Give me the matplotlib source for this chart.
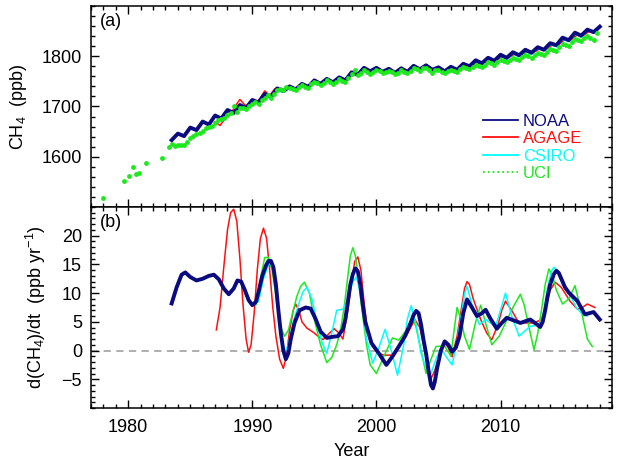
import numpy as np
import matplotlib
matplotlib.use("Agg")
import matplotlib.pyplot as plt
from matplotlib.lines import Line2D
from matplotlib.ticker import MultipleLocator

plt.rcParams["font.family"] = ["Liberation Sans", "DejaVu Sans"]
plt.rcParams["mathtext.default"] = "regular"

# ---- panel (a): CH4 mixing ratio (ppb) ----
noaa_yr = np.arange(1983.5, 2018.01, 0.5)
noaa_ch4 = [1633, 1646, 1641, 1658, 1653, 1670, 1664, 1682, 1676, 1693,
            1687, 1703, 1697, 1713, 1708, 1725, 1719, 1736, 1731, 1740,
            1734, 1745, 1739, 1752, 1745, 1755, 1748, 1758, 1752, 1768,
            1763, 1777, 1770, 1777, 1769, 1775, 1767, 1776, 1769, 1781,
            1774, 1782, 1773, 1778, 1770, 1779, 1773, 1785, 1780, 1792,
            1786, 1797, 1791, 1803, 1797, 1808, 1802, 1813, 1807, 1818,
            1813, 1826, 1822, 1837, 1832, 1847, 1841, 1853, 1848, 1859]

agage_yr = [1987.0, 1987.4, 1987.8, 1988.2, 1988.6, 1989.0, 1989.4, 1989.8,
            1990.2, 1990.6, 1991.0, 1991.4, 1991.8, 1992.2, 1992.7, 1993.2,
            1993.7, 1994.2, 1994.7, 1995.2, 1995.7, 1996.2, 1996.7, 1997.2,
            1997.7, 1998.2, 1998.7, 1999.2, 1999.7, 2000.2, 2000.7, 2001.2,
            2001.7, 2002.2, 2002.7, 2003.2, 2003.7, 2004.2, 2004.7, 2005.2,
            2005.7, 2006.2, 2006.7, 2007.2, 2007.7, 2008.2, 2008.7, 2009.2,
            2009.7, 2010.2, 2010.7, 2011.2, 2011.7, 2012.2, 2012.7, 2013.2,
            2013.7, 2014.2, 2014.7, 2015.2, 2015.7, 2016.2, 2016.7, 2017.2,
            2017.6]
agage_ch4 = [1670, 1662, 1676, 1683, 1700, 1714, 1703, 1700, 1706, 1715,
             1731, 1722, 1735, 1735, 1733, 1738, 1736, 1743, 1741, 1749,
             1746, 1753, 1749, 1756, 1754, 1768, 1766, 1775, 1770, 1774,
             1769, 1772, 1767, 1773, 1770, 1779, 1775, 1779, 1773, 1775,
             1771, 1776, 1774, 1783, 1781, 1789, 1787, 1794, 1792, 1800,
             1798, 1805, 1803, 1810, 1808, 1815, 1814, 1823, 1823, 1834,
             1833, 1843, 1842, 1850, 1849]

csiro_yr = np.arange(1991.0, 2017.01, 0.5)
csiro_ch4 = [1720, 1716, 1732, 1728, 1736, 1732, 1741, 1736, 1747, 1742,
             1751, 1746, 1754, 1749, 1765, 1761, 1774, 1767, 1774, 1766,
             1772, 1764, 1773, 1766, 1778, 1771, 1779, 1770, 1775, 1767,
             1776, 1770, 1782, 1778, 1789, 1783, 1794, 1788, 1800, 1794,
             1805, 1799, 1810, 1804, 1815, 1811, 1823, 1819, 1834, 1829,
             1844, 1838, 1850]

uci_yr = [1978.0, 1979.7, 1980.1, 1980.4, 1980.6, 1980.9, 1981.4, 1982.7,
          1983.3] + list(np.arange(1983.5, 2017.76, 0.25))
uci_ch4 = [1517, 1551, 1561, 1579, 1566, 1568, 1588, 1598, 1619,
           1626, 1622,
           1623, 1623, 1624, 1630,
           1637, 1642, 1645, 1648,
           1652, 1657, 1660, 1662,
           1668, 1673, 1675, 1678,
           1683, 1688, 1701, 1690,
           1696, 1697, 1694, 1700,
           1704, 1708, 1705, 1712,
           1716, 1722, 1716, 1725,
           1733, 1735, 1733, 1739,
           1737, 1734, 1732, 1739,
           1742, 1738, 1737, 1744,
           1749, 1746, 1742, 1747,
           1752, 1749, 1745, 1749,
           1754, 1751, 1749, 1757,
           1765, 1772, 1763, 1767,
           1772, 1769, 1765, 1769,
           1773, 1770, 1766, 1769,
           1771, 1768, 1764, 1767,
           1772, 1769, 1766, 1770,
           1776, 1775, 1770, 1776,
           1777, 1773, 1767, 1772,
           1773, 1769, 1766, 1770,
           1773, 1770, 1768, 1775,
           1778, 1776, 1774, 1779,
           1783, 1781, 1778, 1783,
           1788, 1786, 1783, 1788,
           1793, 1791, 1788, 1793,
           1797, 1795, 1793, 1798,
           1802, 1800, 1797, 1802,
           1807, 1805, 1803, 1809,
           1815, 1813, 1811, 1818,
           1825, 1823, 1821, 1829,
           1835, 1832, 1830, 1836,
           1840, 1837, 1833, 1847]

# ---- panel (b): growth rate (ppb/yr) ----
g_noaa_yr = [1983.5, 1983.9, 1984.3, 1984.6, 1985.0, 1985.5, 1986.0, 1986.5,
             1986.9, 1987.3, 1987.7, 1988.1, 1988.5, 1988.8, 1989.1, 1989.4,
             1989.7, 1990.0, 1990.3, 1990.5, 1990.8, 1991.1, 1991.3, 1991.5,
             1991.7, 1991.9, 1992.1, 1992.3, 1992.5, 1992.7, 1992.9, 1993.1,
             1993.4, 1993.8, 1994.3, 1994.7, 1995.1, 1995.5, 1996.0, 1996.5,
             1996.9, 1997.3, 1997.5, 1997.7, 1997.9, 1998.1, 1998.3, 1998.5,
             1998.7, 1998.9, 1999.1, 1999.6, 2000.2, 2000.8, 2001.3, 2001.8,
             2002.3, 2002.8, 2003.0, 2003.2, 2003.4, 2003.6, 2003.8, 2004.0,
             2004.2, 2004.4, 2004.55, 2004.7, 2004.9, 2005.2, 2005.5, 2005.8,
             2006.1, 2006.4, 2006.7, 2007.0, 2007.3, 2007.7, 2008.1, 2008.5,
             2008.8, 2009.2, 2009.7, 2010.1, 2010.5, 2011.0, 2011.6, 2012.4,
             2012.9, 2013.2, 2013.4, 2013.6, 2013.8, 2014.0, 2014.3, 2014.5,
             2014.7, 2014.9, 2015.2, 2015.5, 2016.2, 2016.8, 2017.5, 2018.0]
g_noaa = [8.2, 11.0, 13.2, 13.6, 12.8, 12.2, 12.5, 13.0,
          13.2, 12.4, 10.8, 9.8, 10.8, 12.2, 12.0, 10.5,
          8.8, 7.9, 8.5, 10.2, 13.0, 14.8, 15.6, 15.6,
          14.5, 11.5, 7.0, 3.0, 0.0, -1.5, -0.5, 2.0,
          4.8, 7.0, 7.5, 7.3, 5.5, 3.3, 2.2, 2.4,
          2.5, 3.7, 5.5, 8.5, 11.5, 13.3, 14.3, 13.8,
          11.5, 8.0, 5.0, 1.3, -0.5, -2.5, -1.0, 0.7,
          2.5, 5.0, 6.2, 6.9, 6.5, 4.5, 1.8, -0.5,
          -3.5, -6.0, -6.6, -5.5, -3.0, 0.0, 1.6, 1.0,
          -0.2, 0.5, 2.5, 6.5, 8.9, 7.5, 6.0, 6.5,
          7.1, 5.5, 3.8, 4.8, 5.7, 5.3, 4.8, 5.4,
          4.6, 4.1, 5.0, 7.0, 9.5, 11.5, 13.3, 13.9,
          13.5, 12.5, 11.0, 10.1, 8.6, 6.3, 6.7, 5.4]

g_agage_yr = [1987.1, 1987.4, 1987.7, 1988.0, 1988.25, 1988.5, 1988.75, 1989.0,
              1989.25, 1989.5, 1989.7, 1989.9, 1990.15, 1990.4, 1990.65, 1990.9,
              1991.15, 1991.4, 1991.65, 1991.9, 1992.2, 1992.5, 1992.75, 1993.0,
              1993.3, 1993.5, 1993.75, 1994.0, 1994.4, 1994.9, 1995.3, 1995.7,
              1996.2, 1996.6, 1997.0, 1997.3, 1997.7, 1998.0, 1998.25, 1998.5,
              1998.75, 1999.0, 1999.3, 1999.7, 2000.2, 2000.6, 2001.3, 2001.9,
              2002.4, 2003.1, 2003.5, 2003.9, 2004.2, 2004.4, 2004.7, 2005.1,
              2005.5, 2005.8, 2006.1, 2006.5, 2006.9, 2007.1, 2007.3, 2007.5,
              2007.8, 2008.4, 2008.9, 2009.3, 2009.8, 2010.1, 2010.4, 2010.9,
              2011.4, 2012.0, 2012.7, 2013.3, 2013.7, 2014.0, 2014.4, 2014.9,
              2015.6, 2016.2, 2016.6, 2017.0, 2017.6]
g_agage = [3.6, 7.5, 14.5, 21.0, 24.0, 24.6, 22.5, 16.0,
           8.0, 2.0, -0.3, 1.0, 6.5, 14.0, 19.5, 21.3,
           19.5, 14.0, 7.5, 2.5, -1.5, -3.1, -1.0, 3.5,
           7.0, 8.1, 7.0, 5.0, 3.9, 3.2, 2.5, 1.9,
           3.0, 3.8, 3.0, 2.0, 7.0, 12.0, 15.5, 16.3,
           14.0, 8.5, 3.0, 0.7, -0.5, -0.8, -0.8, 1.0,
           2.5, 5.4, 4.0, 0.1, -3.0, -4.9, -3.5, -0.5,
           1.3, 0.5, -1.1, 2.5, 8.0, 10.8, 12.0, 11.5,
           9.0, 5.4, 3.0, 1.9, 4.5, 7.0, 8.6, 7.0,
           5.1, 4.8, 4.8, 5.4, 8.0, 10.5, 11.9, 11.0,
           8.6, 7.2, 7.5, 8.1, 7.5]

g_csiro_yr = [1990.5, 1990.9, 1991.3, 1991.6, 1991.9, 1992.2, 1992.6, 1992.9,
              1993.3, 1993.8, 1994.1, 1994.4, 1994.8, 1995.2, 1995.6, 1996.0,
              1996.4, 1996.8, 1997.3, 1997.7, 1998.1, 1998.4, 1998.8, 1999.2,
              1999.7, 2000.2, 2000.7, 2001.2, 2001.7, 2002.2, 2002.5, 2002.8,
              2003.2, 2003.6, 2004.0, 2004.4, 2004.8, 2005.2, 2005.6, 2006.1,
              2006.5, 2006.9, 2007.1, 2007.3, 2007.7, 2008.3, 2008.8, 2009.6,
              2010.0, 2010.4, 2010.9, 2011.5, 2012.0, 2012.4, 2013.2, 2013.5,
              2013.8, 2014.1, 2014.3, 2014.6, 2014.8, 2015.5, 2016.1, 2016.6,
              2017.0]
g_csiro = [8.5, 12.5, 15.0, 15.0, 11.0, 5.0, -0.5, 1.0,
           5.0, 8.5, 10.3, 11.0, 9.0, 5.0, 1.5, -0.5,
           3.0, 7.0, 7.2, 9.0, 12.0, 12.8, 9.0, 2.0,
           -2.2, 0.5, 3.7, 0.0, -4.3, 1.0, 5.5, 7.8,
           4.5, -0.5, -3.0, -4.0, -1.5, 0.4, -1.0, -2.5,
           1.5, 7.0, 9.8, 11.2, 8.0, 4.5, 5.4, 4.2,
           7.0, 10.0, 6.0, 2.5, 3.5, 4.2, 4.5, 7.0,
           11.0, 13.8, 14.5, 13.8, 12.5, 10.1, 7.5, 6.3,
           6.0]

g_uci_yr = [1990.3, 1990.7, 1991.0, 1991.3, 1991.6, 1992.0, 1992.3, 1992.6,
            1992.9, 1993.3, 1993.6, 1993.9, 1994.2, 1994.6, 1995.0, 1995.5,
            1996.0, 1996.4, 1996.8, 1997.1, 1997.4, 1997.7, 1997.9, 1998.1,
            1998.3, 1998.5, 1998.7, 1998.9, 1999.2, 1999.5, 2000.0, 2000.6,
            2001.3, 2001.8, 2002.4, 2002.9, 2003.2, 2003.5, 2004.0, 2004.4,
            2004.8, 2005.5, 2006.0, 2006.2, 2006.5, 2006.8, 2007.1, 2007.5,
            2008.0, 2008.4, 2008.9, 2009.3, 2009.9, 2010.4, 2011.0, 2011.6,
            2011.9, 2012.2, 2012.7, 2013.0, 2013.3, 2013.6, 2013.9, 2014.2,
            2014.5, 2015.0, 2015.5, 2016.0, 2016.5, 2017.0, 2017.4]
g_uci = [8.0, 13.0, 16.2, 16.2, 14.0, 8.0, 4.0, 2.5,
         3.5, 7.0, 9.5, 11.2, 11.9, 10.0, 5.4, 1.0,
         -2.1, -1.2, 1.0, 3.5, 7.5, 13.0, 16.5, 17.9,
         16.5, 13.5, 9.5, 6.0, 1.0, -2.5, -4.0, -1.0,
         2.2, 1.8, 3.5, 6.0, 4.0, 1.0, -4.0, -1.5,
         0.7, 0.8, -1.0, 2.5, 7.5, 5.5, 2.5, 0.2,
         5.0, 7.9, 4.0, 1.0, 2.5, 4.8, 7.5, 9.8,
         8.0, 5.0, 0.1, 3.0, 7.0, 11.5, 14.2, 13.0,
         10.5, 8.1, 9.0, 11.3, 7.0, 2.0, 0.7]

navy = "#0b0b80"
red = "#ff1010"
cyan = "#00ffff"
green = "#1ee81e"

fig = plt.figure(figsize=(6.19, 4.65), dpi=100)
ax1 = fig.add_axes([0.147, 0.555, 0.842, 0.432])
ax2 = fig.add_axes([0.147, 0.1226, 0.842, 0.4324])

ax1.plot(noaa_yr, noaa_ch4, color=navy, lw=2.8, zorder=3)
ax1.plot(agage_yr, agage_ch4, color=red, lw=1.1, zorder=2)
ax1.plot(csiro_yr, csiro_ch4, color=cyan, lw=1.1, zorder=2)
ax1.plot(uci_yr, uci_ch4, color=green, ls="none", marker="o", ms=3.5,
         mec="none", zorder=4)

ax2.axhline(0, color="#a8a8a8", lw=1.3, ls=(0, (4, 3)), zorder=1)
ax2.plot(g_agage_yr, g_agage, color=red, lw=1.1, zorder=2)
ax2.plot(g_uci_yr, g_uci, color=green, lw=1.1, zorder=2)
ax2.plot(g_csiro_yr, g_csiro, color=cyan, lw=1.1, zorder=3)
ax2.plot(g_noaa_yr, g_noaa, color=navy, lw=2.8, zorder=4)

for ax in (ax1, ax2):
    ax.set_xlim(1977, 2019)
    ax.xaxis.set_major_locator(MultipleLocator(10))
    ax.xaxis.set_minor_locator(MultipleLocator(1))
    ax.tick_params(which="both", direction="in", top=True, right=True,
                   labelsize=13, width=1.0)
    ax.tick_params(which="major", length=6)
    ax.tick_params(which="minor", length=3)
    ax.tick_params(axis="x", pad=8)
    ax.tick_params(axis="y", pad=6.5)
    for s in ax.spines.values():
        s.set_linewidth(1.1)

ax1.set_ylim(1500, 1900)
ax1.set_yticks([1600, 1700, 1800])
ax1.yaxis.set_minor_locator(MultipleLocator(20))
ax1.tick_params(labelbottom=False)
ax1.set_ylabel("CH$_4$  (ppb)", fontsize=13, labelpad=9)
ax1.text(0.017, 0.965, "(a)", transform=ax1.transAxes, fontsize=13,
         va="top", ha="left")

ax2.set_ylim(-10, 25)
ax2.set_yticks([-5, 0, 5, 10, 15, 20])
ax2.yaxis.set_minor_locator(MultipleLocator(1))
ax2.set_ylabel("d(CH$_4$)/dt  (ppb yr$^{-1}$)", fontsize=13, labelpad=10)
ax2.set_xlabel("Year", fontsize=13, labelpad=5)
ax2.text(0.017, 0.965, "(b)", transform=ax2.transAxes, fontsize=13,
         va="top", ha="left")

handles = [Line2D([], [], color=navy, lw=1.3),
           Line2D([], [], color=red, lw=1.3),
           Line2D([], [], color=cyan, lw=1.3),
           Line2D([], [], color=green, lw=1.3, ls=":")]
ax1.legend(handles, ["NOAA", "AGAGE", "CSIRO", "UCI"],
           loc="center left", bbox_to_anchor=(0.752, 0.296),
           frameon=False, fontsize=12, handlelength=2.1,
           handletextpad=0.3, labelspacing=0.15, borderpad=0,
           borderaxespad=0, labelcolor="linecolor")

fig.savefig("out.png", dpi=100)
